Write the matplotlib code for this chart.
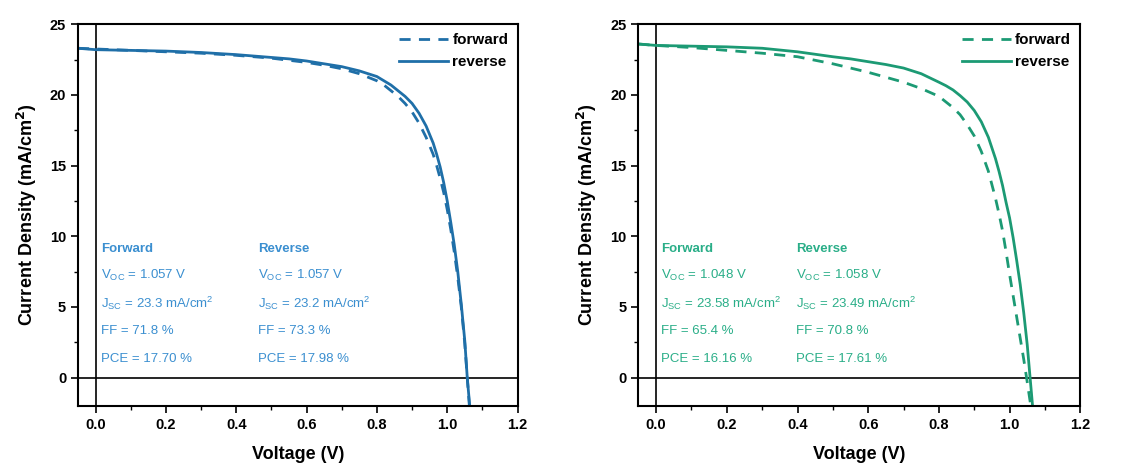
import matplotlib
matplotlib.use("Agg")
import matplotlib.pyplot as plt
from matplotlib.ticker import MultipleLocator

plt.rcParams['font.family'] = ['Liberation Sans', 'DejaVu Sans']
plt.rcParams['mathtext.fontset'] = 'custom'
plt.rcParams['mathtext.rm'] = 'Liberation Sans'

# Left panel (blue)
vL_fwd = [-0.05, 0.0, 0.1, 0.2, 0.3, 0.4, 0.5, 0.55, 0.6, 0.65, 0.7, 0.75, 0.8, 0.82, 0.84, 0.86, 0.88, 0.9,
          0.92, 0.94, 0.96, 0.97, 0.98, 0.99, 1.0, 1.01, 1.02, 1.03, 1.04, 1.05, 1.057, 1.063]
jL_fwd = [23.3, 23.25, 23.15, 23.05, 22.95, 22.8, 22.6, 22.45, 22.3, 22.1, 21.85, 21.5, 21.0, 20.7, 20.3, 19.9, 19.4, 18.8,
          18.0, 17.0, 15.8, 15.0, 14.1, 13.1, 11.9, 10.5, 8.9, 7.1, 5.0, 2.4, 0.0, -2.0]
vL_rev = [-0.05, 0.0, 0.1, 0.2, 0.3, 0.4, 0.5, 0.55, 0.6, 0.65, 0.7, 0.75, 0.8, 0.82, 0.84, 0.86, 0.88, 0.9,
          0.92, 0.94, 0.96, 0.97, 0.98, 0.99, 1.0, 1.01, 1.02, 1.03, 1.04, 1.05, 1.057, 1.064]
jL_rev = [23.3, 23.2, 23.15, 23.1, 23.0, 22.85, 22.65, 22.55, 22.4, 22.2, 22.0, 21.7, 21.3, 21.0, 20.7, 20.3, 19.9, 19.4,
          18.7, 17.8, 16.6, 15.8, 14.9, 13.8, 12.5, 11.0, 9.4, 7.5, 5.2, 2.6, 0.0, -2.0]

# Right panel (green)
vR_fwd = [-0.05, 0.0, 0.1, 0.2, 0.3, 0.4, 0.5, 0.55, 0.6, 0.65, 0.7, 0.75, 0.8, 0.82, 0.84, 0.86, 0.88, 0.9,
          0.92, 0.94, 0.96, 0.97, 0.98, 0.99, 1.0, 1.01, 1.02, 1.03, 1.04, 1.048, 1.06]
jR_fwd = [23.6, 23.5, 23.35, 23.15, 22.95, 22.7, 22.2, 21.9, 21.6, 21.25, 20.9, 20.45, 19.9, 19.5, 19.1, 18.6, 17.9, 17.1,
          16.0, 14.6, 12.7, 11.6, 10.4, 8.9, 7.3, 5.8, 4.3, 2.8, 1.3, 0.0, -2.0]
vR_rev = [-0.05, 0.0, 0.1, 0.2, 0.3, 0.4, 0.5, 0.55, 0.6, 0.65, 0.7, 0.75, 0.8, 0.82, 0.84, 0.86, 0.88, 0.9,
          0.92, 0.94, 0.96, 0.97, 0.98, 0.99, 1.0, 1.01, 1.02, 1.03, 1.04, 1.05, 1.058, 1.065]
jR_rev = [23.6, 23.5, 23.45, 23.4, 23.3, 23.05, 22.7, 22.55, 22.35, 22.15, 21.9, 21.5, 20.9, 20.65, 20.35, 19.95, 19.5, 18.9,
          18.1, 17.0, 15.5, 14.6, 13.6, 12.4, 11.3, 9.9, 8.3, 6.6, 4.6, 2.3, 0.0, -2.0]

x_ticks = [0.0, 0.2, 0.4, 0.6, 0.8, 1.0, 1.2]
y_ticks = [0, 5, 10, 15, 20, 25]

left_params = {
    "Forward": ["V$_{\\rm OC}$ = 1.057 V", "J$_{\\rm SC}$ = 23.3 mA/cm$^{2}$", "FF = 71.8 %", "PCE = 17.70 %"],
    "Reverse": ["V$_{\\rm OC}$ = 1.057 V", "J$_{\\rm SC}$ = 23.2 mA/cm$^{2}$", "FF = 73.3 %", "PCE = 17.98 %"],
}
right_params = {
    "Forward": ["V$_{\\rm OC}$ = 1.048 V", "J$_{\\rm SC}$ = 23.58 mA/cm$^{2}$", "FF = 65.4 %", "PCE = 16.16 %"],
    "Reverse": ["V$_{\\rm OC}$ = 1.058 V", "J$_{\\rm SC}$ = 23.49 mA/cm$^{2}$", "FF = 70.8 %", "PCE = 17.61 %"],
}

fig = plt.figure(figsize=(11.3, 4.66), dpi=100)
axL = fig.add_axes([0.069, 0.129, 0.389, 0.819])
axR = fig.add_axes([0.565, 0.129, 0.391, 0.819])

panels = [
    (axL, vL_fwd, jL_fwd, vL_rev, jL_rev, "#1f6fa8", "#3b8fd0", left_params, 0.462),
    (axR, vR_fwd, jR_fwd, vR_rev, jR_rev, "#1c9a74", "#2aae88", right_params, 0.397),
]

for ax, vf, jf, vr, jr, lc, tc, params, xrev in panels:
    ax.plot(vf, jf, color=lc, lw=2.0, ls=(0, (4, 3)), label="forward")
    ax.plot(vr, jr, color=lc, lw=2.0, ls='-', label="reverse")
    ax.axhline(0, color='black', lw=1.2, zorder=0)
    ax.axvline(0, color='black', lw=1.2, zorder=0)
    ax.set_xlim(-0.05, 1.2)
    ax.set_ylim(-2, 25)
    ax.set_xticks(x_ticks)
    ax.set_yticks(y_ticks)
    ax.xaxis.set_minor_locator(MultipleLocator(0.1))
    ax.yaxis.set_minor_locator(MultipleLocator(2.5))
    ax.tick_params(which='major', direction='out', length=5, width=1.2, labelsize=10.5)
    ax.tick_params(which='minor', direction='out', length=3, width=1.0)
    for lab in ax.get_xticklabels() + ax.get_yticklabels():
        lab.set_fontweight('bold')
    for s in ax.spines.values():
        s.set_linewidth(1.5)
    ax.set_xlabel("Voltage (V)", fontsize=13, fontweight='bold', labelpad=10)
    ax.set_ylabel("Current Density (mA/cm$^{\\mathbf{2}}$)", fontsize=13, fontweight='bold', labelpad=8)
    leg = ax.legend(loc='upper right', frameon=False, fontsize=11, handlelength=3.2,
                    handletextpad=0.3, borderaxespad=0.2, labelspacing=0.5)
    for t in leg.get_texts():
        t.set_fontweight('bold')
    for xpos, key in [(0.015, "Forward"), (xrev, "Reverse")]:
        ax.text(xpos, 9.1, key, color=tc, fontsize=9.5, fontweight='bold', va='center')
        for i, line in enumerate(params[key]):
            ax.text(xpos, 7.25 - i * 1.98, line, color=tc, fontsize=9.5, va='center')

fig.savefig("out.png", dpi=100)
